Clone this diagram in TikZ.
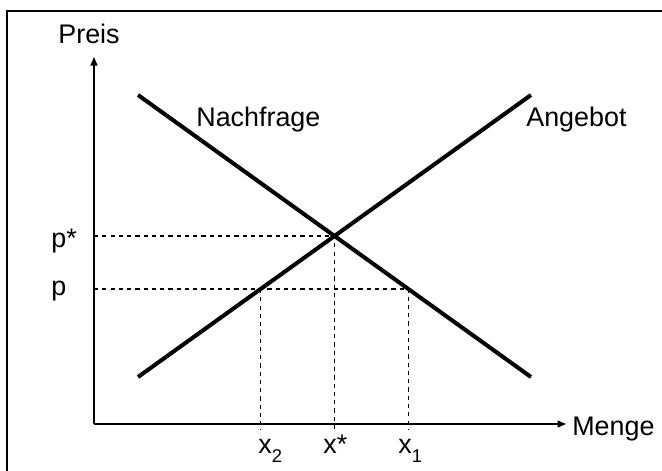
\documentclass[tikz,border=0pt]{standalone}
\usepackage{fontspec}
\setmainfont{Liberation Sans}
\usetikzlibrary{arrows.meta}
\newcommand{\lowsub}[1]{\raisebox{-5.5pt}{\fontsize{10.5}{12}\selectfont #1}}

\begin{document}
\begin{tikzpicture}[>={Triangle[length=0.17cm,width=0.14cm]},font=\fontsize{15.3}{18}\selectfont,
  curve/.style={line width=2.3pt},
  guide/.style={line width=0.65pt,dash pattern=on 2.4pt off 2.3pt},
  lbl/.style={inner sep=0pt,anchor=base west}]
\useasboundingbox (-1.88,-0.92) rectangle (11.36,8.48);
\clip (-1.88,-0.92) rectangle (11.36,8.48);
\draw[line width=1.15pt] (-1.74,-2) rectangle (12,8.26);
% axes
\coordinate (O) at (0,0);
\coordinate (ytip) at (0,7.34);
\coordinate (xtip) at (9.44,0);
\draw[->,line width=0.75pt] (O) -- (ytip);
\draw[->,line width=0.75pt] (O) -- (xtip);
\node[inner sep=0pt,anchor=base] (preis) at (-0.10,7.62) {Preis};
\node[lbl] (menge) at (9.56,-0.22) {Menge};
% curves
\coordinate (D1) at (0.88,6.58);
\coordinate (D2) at (8.74,0.94);
\coordinate (S1) at (0.88,0.94);
\coordinate (S2) at (8.74,6.58);
\draw[curve] (D1) -- (D2);
\draw[curve] (S1) -- (S2);
\node[lbl] (nachfrage) at (2.04,5.96) {Nachfrage};
\node[lbl] (angebot) at (8.64,5.96) {Angebot};
% equilibrium and price p
\coordinate (E) at (4.81,3.76);
\coordinate (A) at (3.33,2.70);
\coordinate (B) at (6.29,2.70);
\draw[guide] (O |- E) -- (E) -- (E |- 0,-0.12);
\draw[guide] (O |- A) -- (B) -- (B |- 0,-0.12);
\draw[guide] (A) -- (A |- 0,-0.12);
\node[lbl] (pstar) at (-0.86,3.54) {p*};
\node[lbl] (p) at (-0.86,2.58) {p};
\node[lbl] (x2) at (3.28,-0.58) {x\lowsub{2}};
\node[lbl] (xstar) at (4.58,-0.58) {x*};
\node[lbl] (x1) at (6.08,-0.58) {x\lowsub{1}};
\end{tikzpicture}
\end{document}
